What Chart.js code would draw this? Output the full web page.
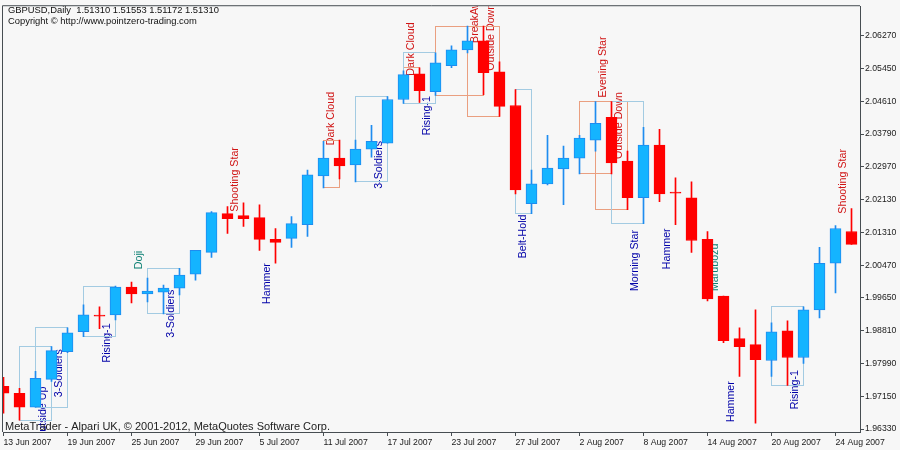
<!DOCTYPE html>
<html><head><meta charset="utf-8">
<script src="https://cdn.jsdelivr.net/npm/chart.js@4.4.1/dist/chart.umd.min.js"></script>
<style>html,body{margin:0;padding:0;background:#F7F7F7;}#wrap{width:900px;height:450px;position:relative;}</style>
</head><body><div id="wrap"><canvas id="c" width="900" height="450"></canvas></div>
<script>
const dates = ['13 Jun 2007','14 Jun 2007','15 Jun 2007','18 Jun 2007','19 Jun 2007','20 Jun 2007','21 Jun 2007','22 Jun 2007','25 Jun 2007','26 Jun 2007','27 Jun 2007','28 Jun 2007','29 Jun 2007',
 '2 Jul 2007','3 Jul 2007','4 Jul 2007','5 Jul 2007','6 Jul 2007','9 Jul 2007','10 Jul 2007','11 Jul 2007','12 Jul 2007','13 Jul 2007','16 Jul 2007','17 Jul 2007','18 Jul 2007','19 Jul 2007','20 Jul 2007','23 Jul 2007','24 Jul 2007','25 Jul 2007','26 Jul 2007','27 Jul 2007','30 Jul 2007','31 Jul 2007',
 '1 Aug 2007','2 Aug 2007','3 Aug 2007','6 Aug 2007','7 Aug 2007','8 Aug 2007','9 Aug 2007','10 Aug 2007','13 Aug 2007','14 Aug 2007','15 Aug 2007','16 Aug 2007','17 Aug 2007','20 Aug 2007','21 Aug 2007','22 Aug 2007','23 Aug 2007','24 Aug 2007','27 Aug 2007'];
const opens = [1.97410,1.97234,1.96883,1.97585,1.98288,1.98790,1.99192,1.99217,1.99920,1.99744,
 1.99794,1.99895,2.00246,2.00798,2.01777,2.01727,2.01677,2.01125,2.01150,2.01501,
 2.02731,2.03183,2.03007,2.03409,2.03559,2.04664,2.05316,2.04864,2.05517,2.05919,
 2.06145,2.05366,2.04513,2.02028,2.02530,2.02907,2.03183,2.03635,2.04212,2.03107,
 2.02179,2.03509,2.02304,2.02179,2.01125,1.99694,1.98615,1.98464,1.98062,1.98815,
 1.98138,1.99342,2.00522,2.01325];
const highs = [1.97636,1.97359,1.97786,1.98414,1.98891,1.99468,1.99418,1.99945,2.00045,2.00146,
 1.99970,2.00397,2.00848,2.01827,2.01953,2.02053,2.02003,2.01401,2.01702,2.02882,
 2.03609,2.03635,2.03635,2.04011,2.04739,2.05392,2.05467,2.05843,2.06019,2.06521,
 2.06521,2.05617,2.04915,2.02882,2.03760,2.03484,2.03760,2.04613,2.04613,2.03358,
 2.03961,2.03911,2.02681,2.02580,2.01325,1.99694,1.98891,1.99342,1.99016,1.99066,
 1.99418,2.00924,2.01476,2.01903];
const lows = [1.96732,1.96556,1.96883,1.97535,1.98263,1.98665,1.98866,1.99091,1.99518,1.99543,
 1.99242,1.99719,2.00095,2.00673,2.01275,2.01451,2.00848,2.00522,2.00924,2.01200,
 2.02430,2.02656,2.02580,2.03208,2.03559,2.04563,2.04588,2.04764,2.05467,2.05843,
 2.04789,2.04237,2.02279,2.01777,2.02505,2.02003,2.02781,2.03358,2.02781,2.01878,
 2.01526,2.02078,2.01501,2.00798,1.99568,1.98514,1.97661,1.96481,1.97661,1.97435,
 1.97987,1.99142,1.99769,2.00999];
const closes = [1.97234,1.96883,1.97611,1.98313,1.98765,1.99217,1.99184,1.99920,1.99744,1.99819,
 1.99895,2.00221,2.00848,2.01802,2.01652,2.01652,2.01125,2.01049,2.01526,2.02756,
 2.03183,2.02982,2.03409,2.03609,2.04664,2.05291,2.04890,2.05592,2.05919,2.06145,
 2.05341,2.04488,2.02380,2.02530,2.02932,2.03183,2.03685,2.04061,2.03057,2.02179,
 2.03509,2.02279,2.02297,2.01099,1.99619,1.98564,1.98414,1.98087,1.98790,1.98138,
 1.99342,2.00522,2.01401,2.00999];
const tickBars = [0,4,8,12,16,20,24,28,32,36,40,44,48,52];
const yTicks = [2.06270,2.05450,2.04610,2.03790,2.02970,2.02130,2.01310,2.00470,1.99650,1.98810,1.97990,1.97150,1.96330];
// candlestick patterns
const patternNames = ['Outside Up','3-Soldiers','Rising-1','Doji','3-Soldiers','Shooting Star','Hammer','Dark Cloud','3-Soldiers','Dark Cloud','Rising-1','BreakAway','Outside Down','Belt-Hold','Evening Star','Outside Down','Morning Star','Hammer','Marubozu','Hammer','Rising-1','Shooting Star'];
const patternStart = [1,2,5,9,9,15,17,20,22,25,25,27,29,32,36,37,38,42,45,46,48,53];
const patternEnd   = [3,4,7,9,11,15,17,21,24,26,27,30,31,33,38,39,40,42,45,46,50,53];
const patternKind  = ['bull','bull','bull','neutral','bull','bear','bull','bear','bull','bear','bull','bear','bear','bull','bear','bear','bull','bull','neutral','bull','bull','bear'];
const labelPrices  = [1.96054,1.97134,1.98012,2.00372,1.98640,2.01827,1.99493,2.03509,2.02405,2.05266,2.03760,2.06094,2.05392,2.00648,2.04714,2.03158,1.99819,2.00372,1.99819,1.96506,1.96832,2.01777];

const header1 = 'GBPUSD,Daily  1.51310 1.51553 1.51172 1.51310';
const header2 = 'Copyright \u00A9 http://www.pointzero-trading.com';
const footer = 'MetaTrader - Alpari UK, \u00A9 2001-2012, MetaQuotes Software Corp.';

const AXIS = '#474d52';
const UP_FILL = '#14B4FF', UP_LINE = '#1E8CF0', DN = '#FF0000';
const BOX = {bull:'#A3CBE2', bear:'#EA9F80'};
const TXT = {bull:'#0000A8', bear:'#D01414', neutral:'#0D8074'};
const FONT = "'Liberation Sans', Arial, sans-serif";

const idx = opens.map((_, i) => i);
const isUp = i => closes[i] >= opens[i];

const overlay = {
  id: 'overlay',
  beforeDatasetsDraw(chart) {
    const {ctx, chartArea: a, scales: {x, y}} = chart;
    ctx.save();
    ctx.beginPath(); ctx.rect(a.left, a.top, a.right - a.left, a.bottom - a.top); ctx.clip();
    // labels
    ctx.font = '10.67px ' + FONT;
    ctx.textAlign = 'left'; ctx.textBaseline = 'middle';
    patternNames.forEach((t, k) => {
      const cx = x.getPixelForValue(patternEnd[k] - 0.5);
      const by = y.getPixelForValue(labelPrices[k]);
      ctx.save(); ctx.translate(cx, by); ctx.rotate(-Math.PI / 2);
      ctx.fillStyle = TXT[patternKind[k]]; ctx.fillText(t, 0, 0); ctx.restore();
    });
    // boxes
    ctx.lineWidth = 1;
    patternNames.forEach((t, k) => {
      const s = patternStart[k], e = patternEnd[k];
      if (s === e) return;
      let hi = -Infinity, lo = Infinity;
      for (let i = s; i <= e; i++) { hi = Math.max(hi, highs[i]); lo = Math.min(lo, lows[i]); }
      const x1 = Math.floor(x.getPixelForValue(s)) + 0.5, x2 = Math.floor(x.getPixelForValue(e)) + 0.5;
      const y1 = Math.floor(y.getPixelForValue(hi)) + 0.5, y2 = Math.floor(y.getPixelForValue(lo)) + 0.5;
      ctx.strokeStyle = BOX[patternKind[k]];
      ctx.strokeRect(x1, y1, x2 - x1, y2 - y1);
    });
    ctx.restore();
  },
  afterDraw(chart) {
    const {ctx, chartArea: a} = chart;
    ctx.save();
    ctx.strokeStyle = AXIS; ctx.lineWidth = 1;
    ctx.beginPath();
    ctx.moveTo(a.left - 0.5, a.bottom); ctx.lineTo(a.left - 0.5, a.top - 0.5); ctx.lineTo(a.right, a.top - 0.5);
    ctx.stroke();
    ctx.fillStyle = '#111'; ctx.textAlign = 'left'; ctx.textBaseline = 'alphabetic';
    ctx.font = '9.4px ' + FONT;
    ctx.fillText(header1, 8, 13.3);
    ctx.fillText(header2, 8, 23.5);
    ctx.fillStyle = '#222';
    ctx.font = '11px ' + FONT;
    ctx.fillText(footer, 5, 429.5);
    ctx.restore();
  }
};

new Chart(document.getElementById('c'), {
  type: 'bar',
  data: {
    datasets: [
      { label: 'wick', data: idx.map(i => ({x: i, y: [lows[i], highs[i]]})),
        backgroundColor: idx.map(i => isUp(i) ? UP_LINE : DN),
        barThickness: 1, grouped: false, order: 2, clip: 0, borderWidth: 0 },
      { label: 'body', data: idx.map(i => ({x: i, y: [opens[i], closes[i]]})),
        backgroundColor: idx.map(i => isUp(i) ? UP_FILL : DN),
        borderColor: idx.map(i => isUp(i) ? UP_LINE : DN),
        borderWidth: 1, borderSkipped: false, barThickness: 11, minBarLength: 1,
        grouped: false, order: 1, clip: 0 }
    ]
  },
  options: {
    responsive: false, animation: false, events: [],
    layout: { padding: { top: 3, left: 3, right: 0, bottom: 0 } },
    plugins: { legend: { display: false }, tooltip: { enabled: false } },
    scales: {
      x: {
        type: 'linear', position: 'bottom', offset: false,
        min: -0.03125, max: 53.53125,
        afterBuildTicks: s => { s.ticks = tickBars.map(v => ({value: v})); },
        afterFit: s => { s.height = 18; },
        ticks: { autoSkip: false, maxRotation: 0, minRotation: 0, align: 'start', padding: 1,
          color: '#1a1a1a', font: { family: FONT, size: 8.7 },
          callback: v => dates[v] },
        grid: { display: true, offset: false, drawOnChartArea: false, drawTicks: true, tickLength: 4, color: AXIS },
        border: { display: true, color: AXIS, width: 1 }
      },
      y: {
        type: 'linear', position: 'right',
        min: 1.962547, max: 2.070230,
        afterBuildTicks: s => { s.ticks = yTicks.map(v => ({value: v})); },
        afterFit: s => { s.width = 40; },
        ticks: { autoSkip: false, padding: 1, color: '#1a1a1a', font: { family: FONT, size: 8.7 },
          callback: v => Number(v).toFixed(5) },
        grid: { display: true, drawOnChartArea: false, drawTicks: true, tickLength: 4, color: AXIS },
        border: { display: true, color: AXIS, width: 1 }
      }
    }
  },
  plugins: [overlay]
});
</script>
</body></html>
